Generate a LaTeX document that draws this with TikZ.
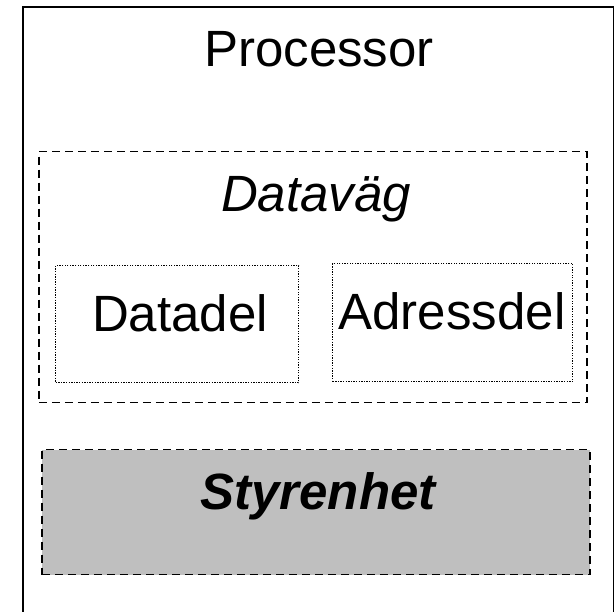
\documentclass[tikz,border=0pt]{standalone}
\usepackage{fontspec}
\setmainfont{Liberation Sans}
\begin{document}
\begin{tikzpicture}[x=1pt,y=-1pt,
  box/.style={rectangle, inner sep=0pt, anchor=north west},
  outerbox/.style={box, draw=black, line width=1.6pt},
  dashbox/.style={box, draw=black, line width=1.5pt, dash pattern=on 8pt off 5pt},
  dotbox/.style={box, draw=black, line width=1.3pt, dash pattern=on 1.3pt off 1.3pt},
  label/.style={anchor=base, inner sep=0pt, font=\fontsize{51}{60}\selectfont}]
  \useasboundingbox (0,0) rectangle (614,612);
  % processor frame (runs past the lower edge)
  \node[outerbox, minimum width=591pt, minimum height=640pt] (proc) at (22,6) {};
  \node[label] (proctext) at (319,67) {Processor};
  % data path
  \node[dashbox, minimum width=548pt, minimum height=251pt] (path) at (38,151) {};
  \node[label, font=\fontsize{51}{60}\selectfont\itshape] (pathtext) at (316,212) {Dataväg};
  \node[dotbox, minimum width=243pt, minimum height=117pt] (data) at (55,265) {};
  \node[label] (datatext) at (180,332) {Datadel};
  \node[dotbox, minimum width=240pt, minimum height=118pt] (addr) at (332,263) {};
  \node[label] (addrtext) at (452,330) {Adressdel};
  % control unit
  \node[dashbox, fill=black!25, minimum width=548pt, minimum height=125pt] (ctrl) at (41,449) {};
  \node[label, font=\fontsize{51}{60}\selectfont\bfseries\itshape] (ctrltext) at (318,510) {Styrenhet};
\end{tikzpicture}
\end{document}
